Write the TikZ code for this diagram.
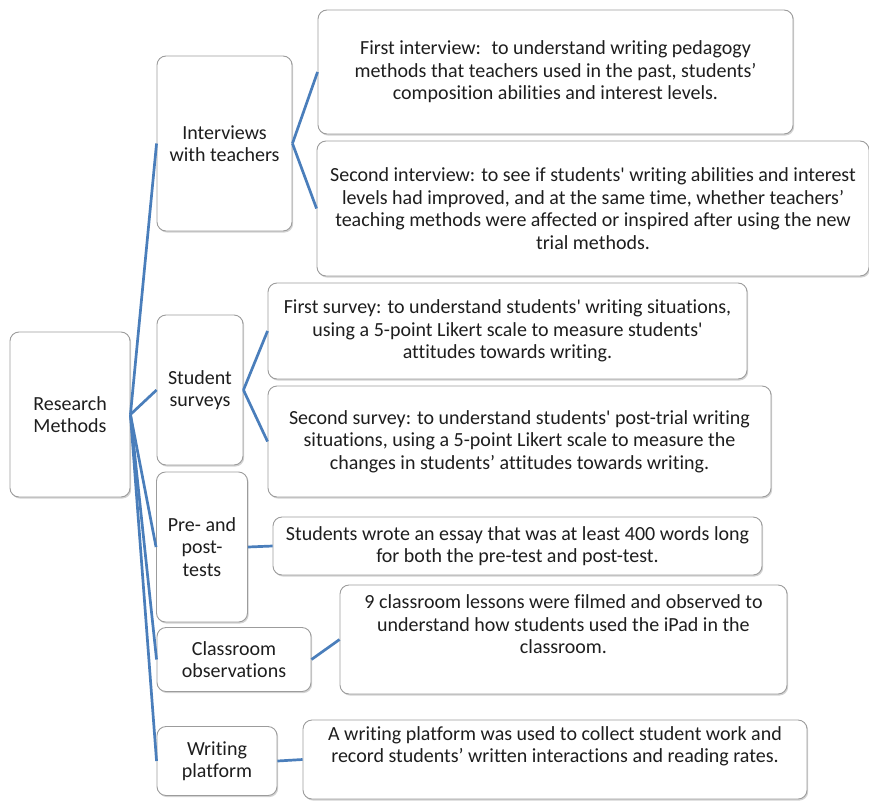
\documentclass[tikz,border=0pt]{standalone}
\usepackage{fontspec}
\setmainfont{Carlito}[Ligatures={NoCommon}]
\usetikzlibrary{shadows}
\usepackage{xcolor}
\definecolor{linkblue}{HTML}{4A7EBB}
\definecolor{boxgray}{HTML}{9C9C9C}
\definecolor{textdark}{HTML}{1E1E1E}
\newcommand{\sq}{\textquotesingle}
\tikzset{
    every node/.style = {font=\fontsize{20}{22.5}\selectfont, text=textdark, align=center},
    method/.style = {draw=boxgray, line width=0.9pt, fill=white, rounded corners=9pt, inner sep=2pt,
                     drop shadow={shadow xshift=1.2pt, shadow yshift=-1.6pt, opacity=0.35}},
    boxsize/.style 2 args = {minimum width=#1pt, minimum height=#2pt},
    toptext/.style = {text depth=30pt},
    link/.style = {draw=linkblue, line width=2.7pt}
}

\begin{document}
\begin{tikzpicture}[x=1pt, y=-1pt]
    \useasboundingbox (0,0) rectangle (869,800);

    % root
    \node[method, boxsize={120}{165}] (root) at (70,414.5) {Research\\Methods};

    % first level
    \node[method, boxsize={135}{175}] (interviews) at (224.5,143.5) {Interviews\\with teachers};
    \node[method, boxsize={86}{150}] (surveys) at (200,390) {Student\\surveys};
    \node[method, boxsize={91}{150}] (tests) at (202,547) {Pre- and\\post-\\tests};
    \node[method, boxsize={154}{64}] (observe) at (234,659.5) {Classroom\\observations};
    \node[method, boxsize={120}{69}] (platform) at (217,761) {Writing\\platform};

    % second level
    \node[method, boxsize={475}{124}] (interview one) at (555.5,72)
        {First interview:~ to understand writing pedagogy\\methods that teachers used in the past, students’\\composition abilities and interest levels.};
    \node[method, boxsize={552}{135}] (interview two) at (593,208.5)
        {Second interview: to see if students\sq{} writing abilities and interest\\levels had improved, and at the same time, whether teachers’\\teaching methods were affected or inspired after using the new\\trial methods.};
    \node[method, boxsize={479}{96}] (survey one) at (507.5,331)
        {First survey: to understand students\sq{} writing situations,\\using a 5-point Likert scale to measure students\sq\\attitudes towards writing.};
    \node[method, boxsize={503}{111}] (survey two) at (519.5,441.5)
        {Second survey: to understand students\sq{} post-trial writing\\situations, using a 5-point Likert scale to measure the\\changes in students’ attitudes towards writing.};
    \node[method, boxsize={489}{58}] (essay) at (517.5,546)
        {Students wrote an essay that was at least 400 words long\\for both the pre-test and post-test.};
    \node[method, toptext, boxsize={447}{109}] (lessons) at (563.5,639.5)
        {9 classroom lessons were filmed and observed to\\understand how students used the iPad in the\\classroom.};
    \node[method, toptext, boxsize={504}{79}] (records) at (555,759.5)
        {A writing platform was used to collect student work and\\record students’ written interactions and reading rates.};

    % connectors
    \draw[link] (root.east) -- (interviews.west);
    \draw[link] (root.east) -- (surveys.west);
    \draw[link] (root.east) -- (tests.west);
    \draw[link] (root.east) -- (observe.west);
    \draw[link] (root.east) -- (platform.west);
    \draw[link] (interviews.east) -- (interview one.west);
    \draw[link] (interviews.east) -- (interview two.west);
    \draw[link] (surveys.east) -- (survey one.west);
    \draw[link] (surveys.east) -- (survey two.west);
    \draw[link] (tests.east) -- (essay.west);
    \draw[link] (observe.east) -- (lessons.west);
    \draw[link] (platform.east) -- (records.west);
\end{tikzpicture}
\end{document}
